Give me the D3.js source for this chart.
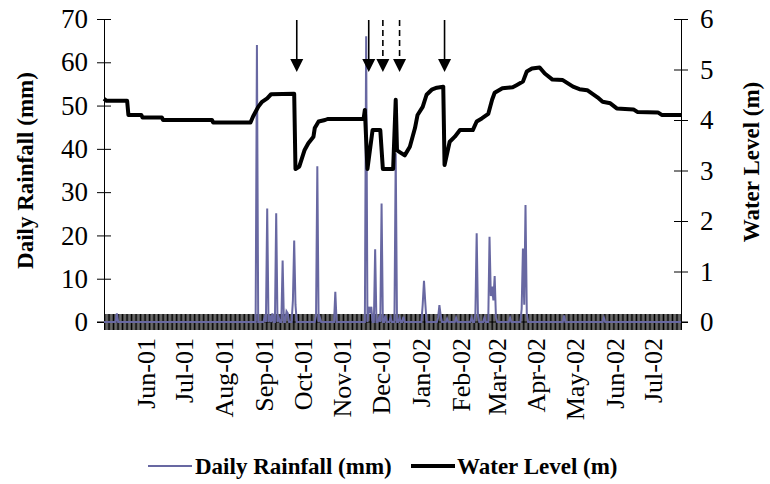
<!DOCTYPE html>
<html>
<head>
<meta charset="utf-8">
<script src="https://cdn.jsdelivr.net/npm/d3@7"></script>
<style>
  body { margin: 0; background: #fff; }
  text { font-family: "Liberation Serif", "Times New Roman", serif; fill: #000; }
</style>
</head>
<body>
<div id="chart"></div>
<script>
// --- data ---
const startDay = "2001-04-30";
const endDay = "2002-07-23";

const monthTicks = ["2001-06-01", "2001-07-01", "2001-08-01", "2001-09-01", "2001-10-01", "2001-11-01",
  "2001-12-01", "2002-01-01", "2002-02-01", "2002-03-01", "2002-04-01", "2002-05-01", "2002-06-01", "2002-07-01"];
const monthLabels = ["Jun-01", "Jul-01", "Aug-01", "Sep-01", "Oct-01", "Nov-01", "Dec-01",
  "Jan-02", "Feb-02", "Mar-02", "Apr-02", "May-02", "Jun-02", "Jul-02"];

const rainTicks = [0, 10, 20, 30, 40, 50, 60, 70];
const levelTicks = [0, 1, 2, 3, 4, 5, 6];

// rainy days (mm); every other day is 0
const rainDates = ["2001-05-10", "2001-08-27", "2001-09-02", "2001-09-04", "2001-09-06", "2001-09-08",
  "2001-09-11", "2001-09-13", "2001-09-16", "2001-09-19", "2001-09-20", "2001-09-24", "2001-09-25",
  "2001-09-26", "2001-10-12", "2001-10-13", "2001-10-15", "2001-10-27", "2001-11-20", "2001-11-22",
  "2001-11-23", "2001-11-24", "2001-11-27", "2001-11-30", "2001-12-02", "2001-12-05", "2001-12-09",
  "2001-12-13", "2001-12-16", "2001-12-19", "2002-01-03", "2002-01-04", "2002-01-05", "2002-01-15",
  "2002-01-16", "2002-01-17", "2002-01-22", "2002-01-29", "2002-02-10", "2002-02-13", "2002-02-14",
  "2002-02-15", "2002-02-20", "2002-02-24", "2002-02-25", "2002-02-26", "2002-02-27", "2002-02-28",
  "2002-03-01", "2002-03-12", "2002-03-21", "2002-03-22", "2002-03-23", "2002-03-24", "2002-03-25",
  "2002-04-23", "2002-05-24"];
const rainValues = [2, 64, 1, 26.2, 1.5, 2,
  25.1, 1, 14.2, 2.5, 2, 5, 18.8,
  4, 1.5, 36, 1, 7, 66, 3.5,
  2.5, 3.5, 16.8, 1, 27.4, 1.5, 1,
  39, 1, 1.2, 4, 9.5, 4.5, 1,
  3.9, 1.5, 0.8, 1, 1, 2, 20.5,
  1.5, 1, 19.7, 6, 8.2, 5, 10.6,
  1, 1, 3, 17, 4, 27, 2,
  1.5, 1];

// water level (m) at the corners of the line
const levelDates = ["2001-04-30", "2001-05-02", "2001-05-18", "2001-05-19", "2001-05-29", "2001-05-30",
  "2001-06-14", "2001-06-15", "2001-07-23", "2001-07-24", "2001-08-22", "2001-08-24", "2001-08-28",
  "2001-08-31", "2001-09-04", "2001-09-07", "2001-09-25", "2001-09-26", "2001-09-29", "2001-10-03",
  "2001-10-06", "2001-10-10", "2001-10-11", "2001-10-14", "2001-10-19", "2001-10-21", "2001-11-18",
  "2001-11-19", "2001-11-21", "2001-11-25", "2001-12-01", "2001-12-03", "2001-12-11", "2001-12-13",
  "2001-12-14", "2001-12-20", "2001-12-24", "2001-12-28", "2001-12-30", "2002-01-03", "2002-01-06",
  "2002-01-10", "2002-01-14", "2002-01-19", "2002-01-20", "2002-01-24", "2002-01-28", "2002-02-01",
  "2002-02-11", "2002-02-14", "2002-02-18", "2002-02-23", "2002-02-26", "2002-02-28", "2002-03-06",
  "2002-03-14", "2002-03-17", "2002-03-22", "2002-03-25", "2002-03-29", "2002-04-04", "2002-04-08",
  "2002-04-14", "2002-04-22", "2002-04-30", "2002-05-05", "2002-05-11", "2002-05-19", "2002-05-23",
  "2002-05-29", "2002-06-03", "2002-06-16", "2002-06-19", "2002-07-05", "2002-07-08", "2002-07-23"];
const levelValues = [4.42, 4.38, 4.38, 4.10, 4.10, 4.05,
  4.05, 4.00, 4.00, 3.95, 3.95, 4.07, 4.26,
  4.36, 4.43, 4.51, 4.52, 3.03, 3.08, 3.40,
  3.54, 3.67, 3.84, 3.97, 4.00, 4.02, 4.02,
  4.20, 3.03, 3.80, 3.80, 3.03, 3.03, 4.40,
  3.40, 3.30, 3.47, 3.84, 4.10, 4.26, 4.50,
  4.60, 4.64, 4.66, 3.11, 3.57, 3.67, 3.80,
  3.80, 3.97, 4.03, 4.12, 4.40, 4.54, 4.63,
  4.65, 4.69, 4.76, 4.96, 5.02, 5.04, 4.92,
  4.80, 4.79, 4.66, 4.61, 4.59, 4.45, 4.36,
  4.33, 4.23, 4.21, 4.16, 4.15, 4.10, 4.10];

// arrows above the plot
const arrowDates = ["2001-09-27", "2001-11-22", "2001-12-03", "2001-12-16", "2002-01-20"];
const arrowDashed = [false, false, true, true, false];

// --- drawing ---
const width = 770, height = 484;
const margin = { top: 19, right: 89, bottom: 162, left: 104 };
const parse = d3.timeParse("%Y-%m-%d");

const svg = d3.select("#chart").append("svg")
  .attr("width", width).attr("height", height);

const x = d3.scaleTime()
  .domain([parse(startDay), parse(endDay)])
  .range([margin.left, width - margin.right]);
const yRain = d3.scaleLinear().domain([0, 70]).range([height - margin.bottom, margin.top]);
const yLevel = d3.scaleLinear().domain([0, 6]).range([height - margin.bottom, margin.top]);
const y0 = yRain(0);

const rainByDay = new Map(rainDates.map((d, i) => [d, rainValues[i]]));
const fmt = d3.timeFormat("%Y-%m-%d");
const days = d3.timeDay.range(parse(startDay), d3.timeDay.offset(parse(endDay), 1));
const rain = days.map(d => ({ date: d, value: rainByDay.get(fmt(d)) || 0 }));
const level = levelDates.map((d, i) => ({ date: parse(d), value: levelValues[i] }));

// daily tick band across the x axis
svg.append("g")
  .attr("transform", `translate(0,${y0 - 8})`)
  .call(d3.axisBottom(x).tickValues(days).tickSize(16).tickFormat(""))
  .call(g => g.select(".domain").remove())
  .call(g => g.selectAll(".tick line").attr("stroke", "#000").attr("stroke-width", 1));

svg.append("line")
  .attr("x1", margin.left - 7).attr("x2", width - margin.right + 7)
  .attr("y1", y0).attr("y2", y0)
  .attr("stroke", "#000");

// month labels
svg.append("g")
  .attr("transform", `translate(0,${y0 + 16})`)
  .call(d3.axisBottom(x).tickValues(monthTicks.map(parse)).tickSize(0).tickFormat((d, i) => monthLabels[i]))
  .call(g => g.select(".domain").remove())
  .selectAll("text")
  .attr("transform", "rotate(-90)")
  .attr("x", 0).attr("y", 0).attr("dy", "0.35em")
  .attr("font-family", null)
  .style("text-anchor", "end")
  .style("font-size", "26px");

// left axis
svg.append("g")
  .attr("transform", `translate(${margin.left},0)`)
  .call(d3.axisLeft(yRain).tickValues(rainTicks).tickSize(7).tickPadding(9))
  .call(g => g.select(".domain").attr("stroke", "#000"))
  .call(g => g.selectAll(".tick line").attr("x1", 7))
  .selectAll("text").style("font-size", "27px").attr("font-family", null);

// right axis
svg.append("g")
  .attr("transform", `translate(${width - margin.right},0)`)
  .call(d3.axisRight(yLevel).tickValues(levelTicks).tickSize(7).tickPadding(12).tickFormat(d3.format("d")))
  .call(g => g.select(".domain").attr("stroke", "#000"))
  .call(g => g.selectAll(".tick line").attr("x1", -7))
  .selectAll("text").style("font-size", "27px").attr("font-family", null);

// axis titles
svg.append("text")
  .attr("transform", `translate(25,${(margin.top + y0) / 2}) rotate(-90)`)
  .attr("text-anchor", "middle").attr("dy", "0.35em")
  .style("font-size", "23px").style("font-weight", "bold")
  .text("Daily Rainfall (mm)");

svg.append("text")
  .attr("transform", `translate(751,162) rotate(-90)`)
  .attr("text-anchor", "middle").attr("dy", "0.35em")
  .style("font-size", "23px").style("font-weight", "bold")
  .text("Water Level (m)");

// series
svg.append("path")
  .datum(rain)
  .attr("fill", "none")
  .attr("stroke", "#6868a2")
  .attr("stroke-width", 2)
  .attr("d", d3.line().x(d => x(d.date)).y(d => yRain(d.value)));

svg.append("path")
  .datum(level)
  .attr("fill", "none")
  .attr("stroke", "#000")
  .attr("stroke-width", 4)
  .attr("stroke-linejoin", "round")
  .attr("d", d3.line().x(d => x(d.date)).y(d => yLevel(d.value)));

// arrows
const arrows = svg.append("g");
arrowDates.forEach((d, i) => {
  const ax = x(parse(d));
  arrows.append("line")
    .attr("x1", ax).attr("x2", ax).attr("y1", 20).attr("y2", 61)
    .attr("stroke", "#000").attr("stroke-width", 1.6)
    .attr("stroke-dasharray", arrowDashed[i] ? "6,4" : null);
  arrows.append("path")
    .attr("d", `M${ax - 6.5},59 L${ax + 6.5},59 L${ax},72 Z`)
    .attr("fill", "#000");
});

// legend
const legend = svg.append("g").attr("transform", "translate(0,466)");
legend.append("line").attr("x1", 148).attr("x2", 192).attr("stroke", "#6868a2").attr("stroke-width", 2);
legend.append("text").attr("x", 195).attr("dy", "0.35em")
  .style("font-size", "23px").style("font-weight", "bold").text("Daily Rainfall (mm)");
legend.append("line").attr("x1", 411).attr("x2", 455).attr("stroke", "#000").attr("stroke-width", 4);
legend.append("text").attr("x", 457).attr("dy", "0.35em")
  .style("font-size", "23px").style("font-weight", "bold").text("Water Level (m)");
</script>
</body>
</html>
